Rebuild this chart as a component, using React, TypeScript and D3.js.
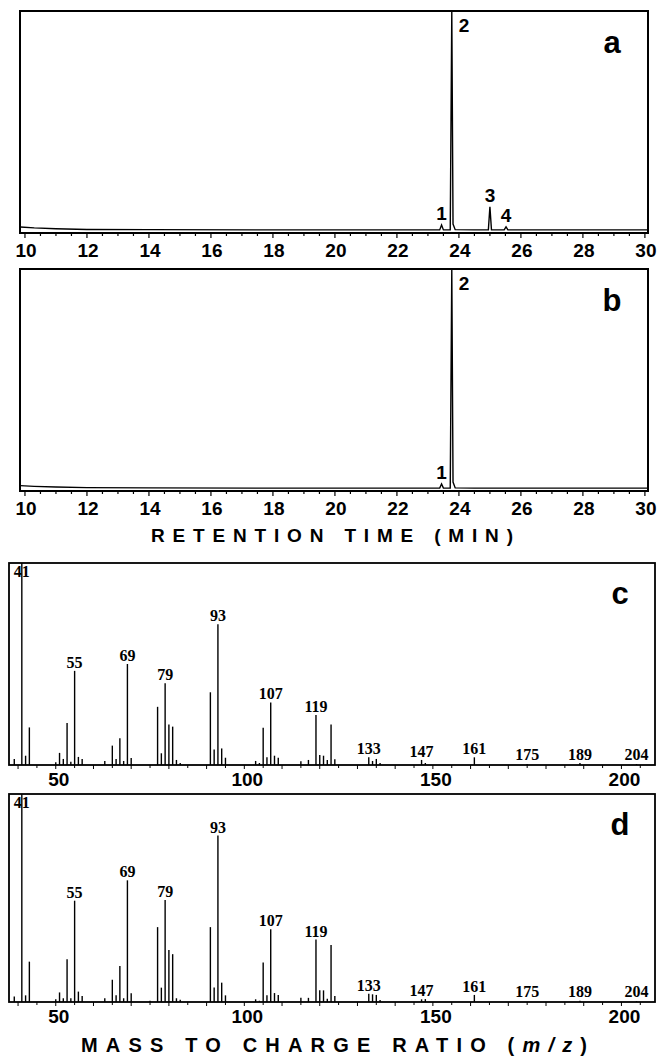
import React from 'react';
import * as d3 from 'd3';

// retention time axis
const rtTicks = [10, 12, 14, 16, 18, 20, 22, 24, 26, 28, 30];
const rtMinorTicks = d3.range(10, 30.01, 0.5);

// chromatogram a (signal in % of full scale)
const traceATime = [9.85, 10.3, 11, 12, 14, 18, 22, 23.38, 23.44, 23.5, 23.72, 23.77, 23.81, 23.88, 24.5, 24.95, 25.0, 25.05, 25.46, 25.52, 25.58, 27, 30.1];
const traceASignal = [2.7, 2.3, 1.9, 1.6, 1.5, 1.4, 1.4, 1.4, 3.6, 1.4, 1.4, 100, 4, 1.5, 1.4, 1.4, 11.8, 1.4, 1.4, 2.8, 1.4, 1.4, 1.4];
const peakNamesA = ['1', '2', '3', '4'];
const peakTimesA = [23.44, 23.77, 25.0, 25.52];

// chromatogram b
const traceBTime = [9.85, 10.3, 11, 12, 14, 18, 22, 23.38, 23.44, 23.5, 23.72, 23.77, 23.81, 23.88, 24.5, 30.1];
const traceBSignal = [2.4, 2.1, 1.8, 1.5, 1.4, 1.3, 1.3, 1.3, 3.2, 1.3, 1.3, 100, 4, 1.4, 1.3, 1.3];
const peakNamesB = ['1', '2'];
const peakTimesB = [23.44, 23.77];

// mass spectra
const mzTicks = [50, 100, 150, 200];
const mzMinorTicks = d3.range(40, 206, 5);
const labeledMz = [41, 55, 69, 79, 93, 107, 119, 133, 147, 161, 175, 189, 204];

const mzC = [39, 41, 42, 43, 50, 51, 52, 53, 54, 55, 56, 57, 63, 65, 66, 67, 68, 69, 70, 77, 78, 79, 80, 81, 82, 83, 91, 92, 93, 94, 95, 103, 104, 105, 106, 107, 108, 109, 115, 117, 119, 120, 121, 122, 123, 124, 133, 134, 135, 136, 147, 148, 161, 175, 189, 204];
const intC = [3, 100, 4.6, 18.6, 1.3, 6, 3, 20.8, 1.6, 46.6, 4, 3, 2, 9.6, 3, 13.3, 2, 50, 3.5, 28.8, 5.8, 40.5, 20, 19, 2.5, 1, 36, 7.7, 69.7, 8.2, 3.6, 2, 1, 18.5, 3.8, 31, 4.6, 3.6, 1.8, 2.5, 24.7, 5, 4.6, 2.5, 20, 2.8, 3.8, 2, 3, 1, 2.5, 1, 3.8, 0.5, 1, 0.5];

const mzD = [39, 41, 42, 43, 50, 51, 52, 53, 54, 55, 56, 57, 63, 65, 66, 67, 68, 69, 70, 75, 77, 78, 79, 80, 81, 82, 83, 91, 92, 93, 94, 95, 103, 104, 105, 106, 107, 108, 109, 115, 117, 119, 120, 121, 122, 123, 124, 133, 134, 135, 136, 147, 148, 161, 189, 204];
const intD = [2.6, 100, 3.2, 19.4, 1.3, 4.6, 1.8, 20.5, 1.8, 48.7, 5, 2.9, 1.8, 10.7, 3.2, 17.3, 1.8, 58.5, 4.2, 0.6, 36, 6.9, 49, 25, 23, 1.8, 1.1, 36, 7, 80, 9.3, 3.2, 1.3, 0.6, 19, 3.2, 35, 4.3, 3.4, 2, 2, 30, 5.6, 5.6, 1.6, 27.4, 2.9, 4, 3.7, 3.4, 1, 1.3, 1.4, 3.4, 0.6, 0.4];

const SANS = 'Liberation Sans, Arial, sans-serif';
const SERIF = 'Liberation Serif, Times New Roman, serif';

function Chromatogram({ top, bottom, times, signal, names, peaks, letter }) {
  const left = 20, right = 648;
  const x = d3.scaleLinear().domain([9.84, 30.1]).range([left, right]);
  const y = d3.scaleLinear().domain([0, 100]).range([bottom, top]);
  const pts = times.map((t, i) => [t, signal[i]]);
  const line = d3.line().x((d) => x(d[0])).y((d) => y(d[1]));
  const sigAt = (t) => {
    const i = times.indexOf(t);
    return signal[i];
  };
  return (
    <g>
      <path d={line(pts)} fill="none" stroke="#000" strokeWidth={1.4} />
      <rect x={left} y={top} width={right - left} height={bottom - top} fill="none" stroke="#000" strokeWidth={2} />
      {rtMinorTicks.map((t) => (
        <line key={t} x1={x(t)} x2={x(t)} y1={bottom} y2={bottom + (t % 2 === 0 ? 5 : 3)} stroke="#000" strokeWidth={1.2} />
      ))}
      {rtTicks.map((t) => (
        <text key={t} x={x(t) + 1} y={bottom + 24} textAnchor="middle" fontFamily={SANS} fontWeight="bold" fontSize={19}>
          {t}
        </text>
      ))}
      {names.map((n, i) => {
        const v = sigAt(peaks[i]);
        const isMain = v >= 99;
        return (
          <text
            key={n}
            x={isMain ? x(peaks[i]) + 7 : x(peaks[i])}
            y={isMain ? top + 21 : y(v) - 5}
            textAnchor={isMain ? 'start' : 'middle'}
            fontFamily={SANS}
            fontWeight="bold"
            fontSize={19}
          >
            {n}
          </text>
        );
      })}
      <text x={612} y={top + 42} textAnchor="middle" fontFamily={SANS} fontWeight="bold" fontSize={31}>
        {letter}
      </text>
    </g>
  );
}

function Spectrum({ top, bottom, mz, inten, letter }) {
  const left = 9, right = 655;
  const x = d3.scaleLinear().domain([37.6, 208.9]).range([left, right]);
  const y = d3.scaleLinear().domain([0, 100]).range([bottom, top]);
  const intAt = (m) => {
    const i = mz.indexOf(m);
    return i >= 0 ? inten[i] : 0;
  };
  return (
    <g>
      {mz.map((m, i) => (
        <line key={m} x1={x(m)} x2={x(m)} y1={bottom} y2={y(inten[i])} stroke="#000" strokeWidth={1.4} />
      ))}
      <rect x={left} y={top} width={right - left} height={bottom - top} fill="none" stroke="#000" strokeWidth={1.8} />
      {mzMinorTicks.map((m) => (
        <line key={m} x1={x(m)} x2={x(m)} y1={bottom} y2={bottom + (m % 10 === 0 ? 4 : 3)} stroke="#000" strokeWidth={1} />
      ))}
      {mzTicks.map((m) => (
        <text key={m} x={x(m) + 3} y={bottom + 21} textAnchor="middle" fontFamily={SANS} fontWeight="bold" fontSize={19}>
          {m}
        </text>
      ))}
      {labeledMz.map((m) => {
        const v = intAt(m);
        const ly = v >= 99 ? top + 14 : Math.min(y(v) - 3, bottom - 5);
        return (
          <text key={m} x={x(m)} y={ly} textAnchor="middle" fontFamily={SERIF} fontWeight="bold" fontSize={16}>
            {m}
          </text>
        );
      })}
      <text x={620} y={top + 41} textAnchor="middle" fontFamily={SANS} fontWeight="bold" fontSize={31}>
        {letter}
      </text>
    </g>
  );
}

export default function App() {
  return (
    <svg width={658} height={1056} viewBox="0 0 658 1056" style={{ position: 'absolute', left: 0, top: 0, background: '#fff' }}>
      <rect width={658} height={1056} fill="#fff" />
      <Chromatogram top={11} bottom={233} times={traceATime} signal={traceASignal} names={peakNamesA} peaks={peakTimesA} letter="a" />
      <Chromatogram top={269} bottom={491} times={traceBTime} signal={traceBSignal} names={peakNamesB} peaks={peakTimesB} letter="b" />
      <text x={151} y={542} fontFamily={SANS} fontWeight="bold" fontSize={19} textLength={362} lengthAdjust="spacing">
        RETENTION TIME (MIN)
      </text>
      <Spectrum top={563} bottom={765} mz={mzC} inten={intC} letter="c" />
      <Spectrum top={794} bottom={1002} mz={mzD} inten={intD} letter="d" />
      <text x={81} y={1052} fontFamily={SANS} fontWeight="bold" fontSize={20} textLength={506} lengthAdjust="spacing">
        MASS TO CHARGE RATIO (<tspan fontStyle="italic">m/z</tspan>)
      </text>
    </svg>
  );
}
